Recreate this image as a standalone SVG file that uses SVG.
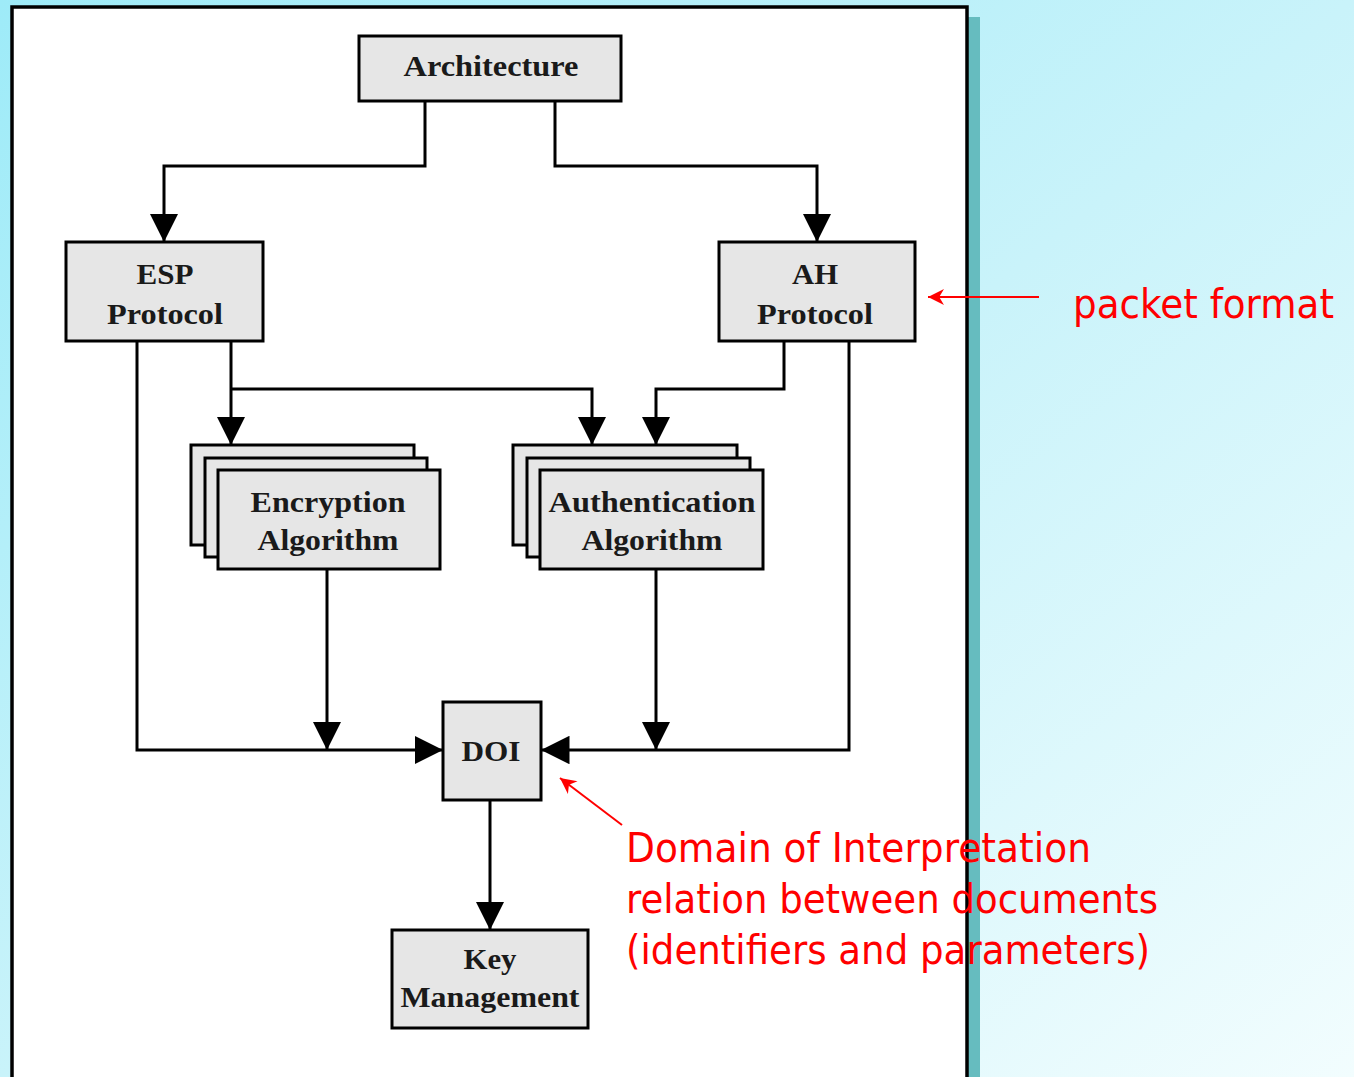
<svg xmlns="http://www.w3.org/2000/svg" width="1354" height="1077" viewBox="0 0 1354 1077">
  <defs>
    <linearGradient id="bg" x1="0" y1="0" x2="1" y2="1">
      <stop offset="0" stop-color="#9eebf8"/>
      <stop offset="0.5" stop-color="#c9f3fa"/>
      <stop offset="1" stop-color="#f2fdfe"/>
    </linearGradient>
    <marker id="ah" viewBox="0 0 10 10" refX="10" refY="5" markerWidth="9.5" markerHeight="9.5" markerUnits="strokeWidth" orient="auto">
      <path d="M0,0 L10,5 L0,10 Z" fill="#000"/>
    </marker>
    <marker id="rh" viewBox="0 0 10 10" refX="10" refY="5" markerWidth="10" markerHeight="8" markerUnits="strokeWidth" orient="auto">
      <path d="M0,0 L10,5 L0,10 L3,5 Z" fill="#ff0000"/>
    </marker>
  </defs>
  <style>
    .box { fill: #e6e6e6; stroke: #000; stroke-width: 3; }
    .lbl { font-family: "Liberation Serif", "Times New Roman", serif; font-weight: bold; font-size: 30px; fill: #1a1a1a; text-anchor: middle; }
    .wire { fill: none; stroke: #000; stroke-width: 3; }
    .note { font-family: "DejaVu Sans", Tahoma, sans-serif; font-size: 40px; fill: #ff0000; }
    .red { fill: none; stroke: #ff0000; stroke-width: 2; }
  </style>

  <!-- slide background -->
  <rect x="0" y="0" width="1354" height="1077" fill="url(#bg)"/>
  <!-- panel shadow and panel -->
  <rect x="966" y="17" width="14" height="1060" fill="#66bcbf"/>
  <rect x="12" y="7" width="955" height="1075" fill="#fff" stroke="#000" stroke-width="3.5"/>

  <!-- connectors -->
  <g id="connectors">
    <polyline class="wire" points="425,101 425,166 164,166 164,242" marker-end="url(#ah)"/>
    <polyline class="wire" points="555,101 555,166 817,166 817,242" marker-end="url(#ah)"/>
    <polyline class="wire" points="231,341 231,445" marker-end="url(#ah)"/>
    <polyline class="wire" points="231,389 592,389 592,445" marker-end="url(#ah)"/>
    <polyline class="wire" points="784,341 784,389 656,389 656,445" marker-end="url(#ah)"/>
    <polyline class="wire" points="137,341 137,750 443,750" marker-end="url(#ah)"/>
    <polyline class="wire" points="327,569 327,750" marker-end="url(#ah)"/>
    <polyline class="wire" points="656,569 656,750" marker-end="url(#ah)"/>
    <polyline class="wire" points="849,341 849,750 541,750" marker-end="url(#ah)"/>
    <polyline class="wire" points="490,800 490,930" marker-end="url(#ah)"/>
  </g>

  <!-- nodes -->
  <g id="architecture">
    <rect class="box" x="359" y="36" width="262" height="65"/>
    <text class="lbl" x="491" y="76" textLength="175" lengthAdjust="spacingAndGlyphs">Architecture</text>
  </g>
  <g id="esp">
    <rect class="box" x="66" y="242" width="197" height="99"/>
    <text class="lbl" x="165" y="284" textLength="57" lengthAdjust="spacingAndGlyphs">ESP</text>
    <text class="lbl" x="165" y="324" textLength="116" lengthAdjust="spacingAndGlyphs">Protocol</text>
  </g>
  <g id="ah-protocol">
    <rect class="box" x="719" y="242" width="196" height="99"/>
    <text class="lbl" x="815" y="284" textLength="46" lengthAdjust="spacingAndGlyphs">AH</text>
    <text class="lbl" x="815" y="324" textLength="116" lengthAdjust="spacingAndGlyphs">Protocol</text>
  </g>
  <g id="encryption">
    <rect class="box" x="191" y="445" width="223" height="100"/>
    <rect class="box" x="205" y="458" width="222" height="99"/>
    <rect class="box" x="218" y="470" width="222" height="99"/>
    <text class="lbl" x="328" y="512" textLength="155" lengthAdjust="spacingAndGlyphs">Encryption</text>
    <text class="lbl" x="328" y="550" textLength="141" lengthAdjust="spacingAndGlyphs">Algorithm</text>
  </g>
  <g id="authentication">
    <rect class="box" x="513" y="445" width="224" height="100"/>
    <rect class="box" x="527" y="458" width="223" height="99"/>
    <rect class="box" x="540" y="470" width="223" height="99"/>
    <text class="lbl" x="652" y="512" textLength="207" lengthAdjust="spacingAndGlyphs">Authentication</text>
    <text class="lbl" x="652" y="550" textLength="141" lengthAdjust="spacingAndGlyphs">Algorithm</text>
  </g>
  <g id="doi">
    <rect class="box" x="443" y="702" width="98" height="98"/>
    <text class="lbl" x="491" y="761" textLength="59" lengthAdjust="spacingAndGlyphs">DOI</text>
  </g>
  <g id="key-management">
    <rect class="box" x="392" y="930" width="196" height="98"/>
    <text class="lbl" x="490" y="969" textLength="53" lengthAdjust="spacingAndGlyphs">Key</text>
    <text class="lbl" x="490" y="1007" textLength="179" lengthAdjust="spacingAndGlyphs">Management</text>
  </g>

  <!-- annotations -->
  <g id="notes">
    <line class="red" x1="1039" y1="297" x2="928" y2="297" marker-end="url(#rh)"/>
    <text class="note" x="1073" y="318" textLength="261" lengthAdjust="spacingAndGlyphs">packet format</text>
    <line class="red" x1="622" y1="825" x2="560" y2="778" marker-end="url(#rh)"/>
    <text class="note" x="626" y="862" textLength="465" lengthAdjust="spacingAndGlyphs">Domain of Interpretation</text>
    <text class="note" x="626" y="913" textLength="532" lengthAdjust="spacingAndGlyphs">relation between documents</text>
    <text class="note" x="626" y="964" textLength="524" lengthAdjust="spacingAndGlyphs">(identifiers and parameters)</text>
  </g>
</svg>
